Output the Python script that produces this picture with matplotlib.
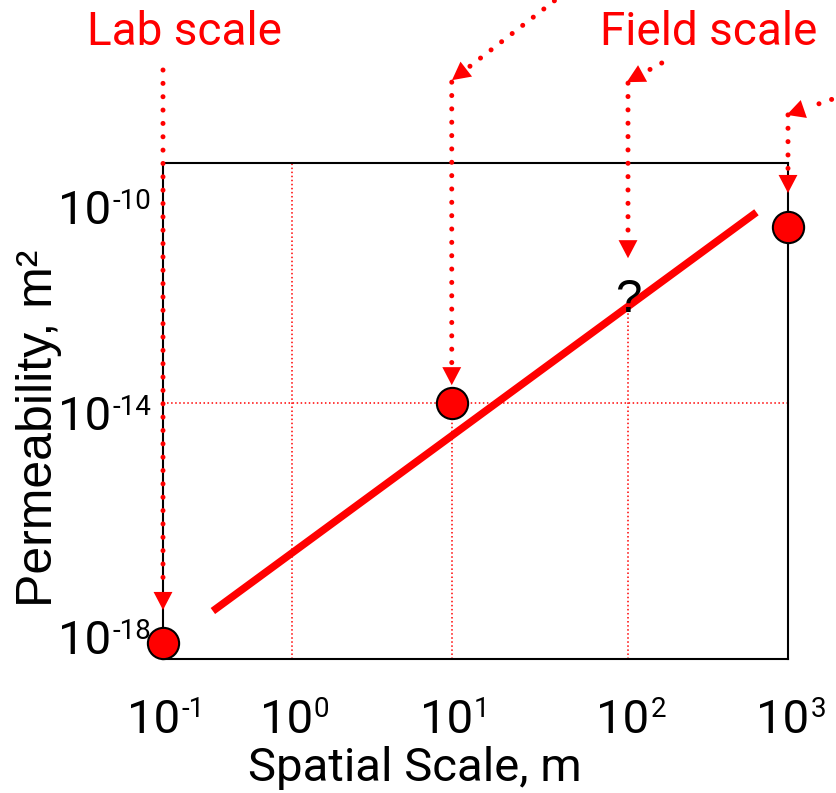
import numpy as np
import matplotlib
matplotlib.use("Agg")
import matplotlib.pyplot as plt

# ---- data ----
scale_m = [0.1, 10, 1000]            # measured samples (lab, core, field)
perm_m2 = [5.2e-19, 1e-14, 2.64e-11]
trend_x = [0.244, 635]               # fitted trend line ends
trend_y = [1.93e-18, 5.1e-11]
unknown_x = 100                      # the "?" scale
unknown_y = 1e-12
x_ticks = [1e-1, 1e0, 1e1, 1e2, 1e3]
x_exps = ['-1', '0', '1', '2', '3']
y_ticks = [1e-18, 1e-14, 1e-10]
y_exps = ['-18', '-14', '-10']

RED = '#ff0000'
DOTS = (0, (0.01, 2.66))
PX = 72 / 100  # points per pixel

# the slide's axes are hand drawn, decades are not evenly spaced
x_knot_exp = [-3, -1, 0, 1, 2, 3, 5]
x_knot_pos = [-0.412, 0.0, 0.206, 0.462, 0.744, 1.0, 1.512]
y_knot_exp = [-22, -18, -14, -10, -6]
y_knot_pos = [-0.387, 0.0645, 0.516, 0.931, 1.346]


def make_scale(kexp, kpos):
    def fwd(v):
        with np.errstate(divide='ignore', invalid='ignore'):
            return np.interp(np.log10(v), kexp, kpos)

    def inv(p):
        return 10.0 ** np.interp(p, kpos, kexp)
    return fwd, inv


xf, xi = make_scale(x_knot_exp, x_knot_pos)
yf, yi = make_scale(y_knot_exp, y_knot_pos)

fig = plt.figure(figsize=(8.37, 7.93), dpi=100)
ax = fig.add_axes([163 / 837, (793 - 659) / 793, 625 / 837, 496 / 793])
ax.set_xscale('function', functions=(xf, xi))
ax.set_yscale('function', functions=(yf, yi))
ax.set_xlim(xi(0.0), xi(1.0))
ax.set_ylim(yi(0.0), yi(1.0))
ax.set_xticks(x_ticks)
ax.set_yticks(y_ticks)
ax.set_xticklabels([])
ax.set_yticklabels([])
ax.tick_params(length=0)
for s in ax.spines.values():
    s.set_linewidth(1.5)
    s.set_color('black')

# thin red grid
ymin = ax.get_ylim()[0]
ax.axvline(x_ticks[1], color=RED, lw=1.1, ls=':', zorder=1)
ax.vlines(x_ticks[2], ymin, perm_m2[1], color=RED, lw=1.1, ls=':', zorder=1)
ax.vlines(x_ticks[3], ymin, unknown_y, color=RED, lw=1.1, ls=':', zorder=1)
ax.axhline(y_ticks[1], color=RED, lw=1.1, ls=':', zorder=1)

ax.plot(trend_x, trend_y, color=RED, lw=5.4, solid_capstyle='butt', zorder=2)
ax.plot(scale_m, perm_m2, 'o', ms=22.5, mfc=RED, mec='black', mew=1.5,
        clip_on=False, zorder=6)
ax.text(unknown_x, unknown_y, '?', ha='center', va='center', fontsize=34,
        family='Liberation Sans', zorder=3)


# tick labels "10" + small exponent, placed by hand like on the slide
def power_label(xy, exp, coords):
    kw = dict(xycoords=coords, textcoords='offset points', xytext=(0, 0),
              family='Roboto', va='baseline', annotation_clip=False, zorder=3)
    base = ax.annotate('10', xy, fontsize=34, ha='right', **kw)
    sup = ax.annotate(exp, xy, fontsize=20, ha='left', **kw)
    return base, sup


x_labels = [power_label((t, 0), e, ('data', 'axes fraction')) for t, e in zip(x_ticks, x_exps)]
y_labels = [power_label((0, t), e, ('axes fraction', 'data')) for t, e in zip(y_ticks, y_exps)]

fig.canvas.draw()
rend = fig.canvas.get_renderer()
for base, sup in x_labels:
    wb = base.get_window_extent(rend).width
    ws = sup.get_window_extent(rend).width
    j = 3 + (wb - ws - 1) / 2
    base.xyann = (j * PX, -74 * PX)
    sup.xyann = ((j + 1) * PX, -58 * PX)
for base, sup in y_labels:
    ws = sup.get_window_extent(rend).width
    sup.xyann = ((-12 - ws) * PX, -12 * PX)
    base.xyann = ((-13 - ws) * PX, -27 * PX)


def dotted_arrow(start, tip, coords):
    ax.annotate('', xy=tip, xycoords=coords, xytext=start, textcoords=coords,
                arrowprops=dict(arrowstyle='-', color=RED, lw=3.6, linestyle=DOTS,
                                capstyle='round', shrinkA=0, shrinkB=15),
                annotation_clip=False, zorder=4)
    ax.annotate('', xy=tip, xycoords=coords, xytext=start, textcoords=coords,
                arrowprops=dict(arrowstyle='-|>,head_length=1.3,head_width=0.68',
                                mutation_scale=10, color=RED, lw=0,
                                shrinkA=0, shrinkB=0),
                annotation_clip=False, zorder=4)


vert = ('data', 'axes fraction')
dotted_arrow((scale_m[0], 1.1875), (scale_m[0], 0.0988), vert)
dotted_arrow((scale_m[1], 1.163), (scale_m[1], 0.552), vert)
dotted_arrow((unknown_x, 1.161), (unknown_x, 0.808), vert)
dotted_arrow((scale_m[2], 1.097), (scale_m[2], 0.9395), vert)
dotted_arrow((0.66, 1.36), (0.4624, 1.167), 'axes fraction')
dotted_arrow((0.798, 1.2016), (0.742, 1.163), 'axes fraction')
dotted_arrow((1.09, 1.137), (0.998, 1.097), 'axes fraction')

fig.text(185 / 837, 1 - 45 / 793, 'Lab scale', ha='center', va='baseline',
         fontsize=33, family='Roboto', color=RED)
fig.text(709 / 837, 1 - 45 / 793, 'Field scale', ha='center', va='baseline',
         fontsize=33, family='Roboto', color=RED)
fig.text(415 / 837, 1 - 781 / 793, 'Spatial Scale, m', ha='center', va='baseline',
         fontsize=34, family='Roboto')
fig.text(52 / 837, 1 - 428 / 793, 'Permeability, m\u00b2', ha='center', va='baseline',
         rotation=90, rotation_mode='anchor', fontsize=36, family='Liberation Sans')

fig.savefig('out.png', dpi=100)
